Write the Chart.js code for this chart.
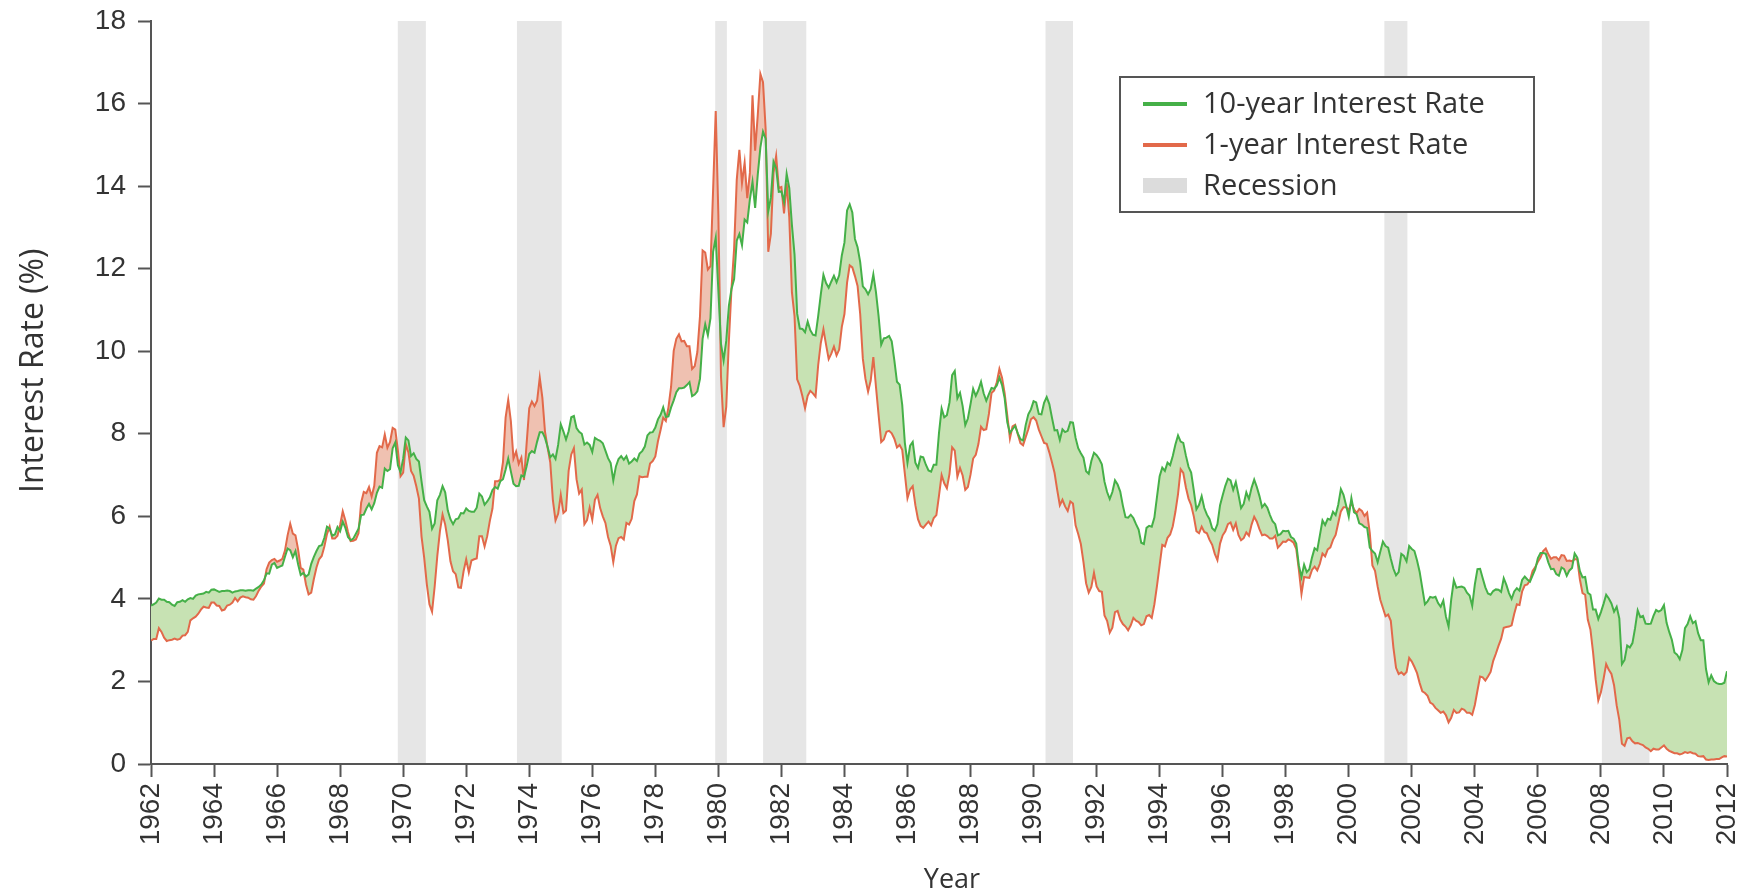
<!DOCTYPE html>
<html>
<head>
<meta charset="utf-8">
<script src="https://cdn.jsdelivr.net/npm/chart.js@4.4.1/dist/chart.umd.min.js"></script>
<style>
  html, body { margin: 0; padding: 0; background: #fff; }
</style>
</head>
<body>
<canvas id="chart" width="1744" height="896"></canvas>
<script>
// monthly readings, first value sits on the 1962 tick
const startYear = 1962;
const endYear = 2012;

const tenYear = [
  3.84, 3.87, 3.91, 4.01, 3.98, 3.98, 3.93, 3.92, 3.86, 3.83, 3.92, 3.93, // 1962
  3.97, 3.93, 3.99, 4.02, 4.00, 4.08, 4.11, 4.12, 4.13, 4.17, 4.15, 4.22, // 1963
  4.23, 4.20, 4.17, 4.19, 4.19, 4.20, 4.19, 4.15, 4.18, 4.19, 4.21, 4.21, // 1964
  4.20, 4.21, 4.21, 4.20, 4.25, 4.29, 4.35, 4.45, 4.62, 4.61, 4.83, 4.87, // 1965
  4.75, 4.78, 4.81, 5.02, 5.22, 5.18, 5.01, 5.16, 4.84, 4.58, 4.63, 4.54, // 1966
  4.59, 4.85, 5.02, 5.16, 5.28, 5.30, 5.48, 5.75, 5.70, 5.53, 5.56, 5.74, // 1967
  5.64, 5.87, 5.72, 5.50, 5.42, 5.46, 5.58, 5.70, 6.03, 6.04, 6.19, 6.30, // 1968
  6.17, 6.32, 6.57, 6.72, 6.69, 7.16, 7.10, 7.14, 7.65, 7.79, 7.24, 7.07, // 1969
  7.39, 7.91, 7.84, 7.46, 7.53, 7.39, 7.33, 6.84, 6.39, 6.24, 6.11, 5.70, // 1970
  5.83, 6.39, 6.52, 6.73, 6.58, 6.14, 5.93, 5.81, 5.93, 5.95, 6.08, 6.07, // 1971
  6.19, 6.13, 6.11, 6.11, 6.21, 6.55, 6.48, 6.28, 6.36, 6.46, 6.64, 6.71, // 1972
  6.67, 6.85, 6.90, 7.13, 7.40, 7.09, 6.79, 6.73, 6.74, 6.99, 6.96, 7.21, // 1973
  7.51, 7.58, 7.54, 7.81, 8.04, 8.04, 7.90, 7.68, 7.43, 7.50, 7.39, 7.73, // 1974
  8.23, 8.06, 7.86, 8.06, 8.40, 8.43, 8.14, 8.05, 8.00, 7.74, 7.79, 7.73, // 1975
  7.56, 7.90, 7.86, 7.83, 7.77, 7.59, 7.41, 7.29, 6.87, 7.21, 7.39, 7.46, // 1976
  7.37, 7.46, 7.28, 7.33, 7.40, 7.34, 7.52, 7.58, 7.69, 7.96, 8.03, 8.04, // 1977
  8.15, 8.35, 8.46, 8.64, 8.41, 8.42, 8.64, 8.81, 9.01, 9.10, 9.10, 9.12, // 1978
  9.18, 9.25, 8.91, 8.95, 9.03, 9.33, 10.30, 10.65, 10.39, 10.80, 12.41, 12.75, // 1979
  11.47, 10.18, 9.78, 10.25, 11.10, 11.51, 11.75, 12.68, 12.84, 12.57, 13.19, 13.12, // 1980
  13.68, 14.10, 13.47, 14.28, 14.94, 15.32, 15.15, 13.39, 13.72, 14.59, 14.43, 13.86, // 1981
  13.87, 13.62, 14.30, 13.95, 13.06, 12.34, 10.91, 10.55, 10.54, 10.46, 10.72, 10.51, // 1982
  10.40, 10.38, 10.85, 11.38, 11.85, 11.65, 11.54, 11.69, 11.83, 11.67, 11.84, 12.32, // 1983
  12.63, 13.41, 13.56, 13.36, 12.72, 12.52, 12.16, 11.57, 11.50, 11.38, 11.51, 11.86, // 1984
  11.43, 10.85, 10.16, 10.31, 10.33, 10.37, 10.24, 9.78, 9.26, 9.19, 8.70, 7.78, // 1985
  7.30, 7.71, 7.80, 7.30, 7.17, 7.45, 7.43, 7.25, 7.11, 7.08, 7.25, 7.25, // 1986
  8.02, 8.61, 8.40, 8.45, 8.76, 9.42, 9.52, 8.86, 8.99, 8.67, 8.21, 8.37, // 1987
  8.72, 9.09, 8.92, 9.06, 9.26, 8.98, 8.80, 8.96, 9.11, 9.09, 9.17, 9.36, // 1988
  9.18, 8.86, 8.28, 8.02, 8.11, 8.19, 8.01, 7.87, 7.84, 8.21, 8.47, 8.59, // 1989
  8.79, 8.76, 8.48, 8.47, 8.75, 8.89, 8.72, 8.39, 8.08, 8.09, 7.85, 8.11, // 1990
  8.04, 8.07, 8.28, 8.27, 7.90, 7.65, 7.53, 7.42, 7.09, 7.03, 7.34, 7.54, // 1991
  7.48, 7.39, 7.26, 6.84, 6.59, 6.42, 6.59, 6.87, 6.77, 6.60, 6.26, 5.98, // 1992
  5.97, 6.04, 5.96, 5.81, 5.68, 5.36, 5.33, 5.72, 5.77, 5.75, 5.97, 6.48, // 1993
  6.97, 7.18, 7.10, 7.30, 7.24, 7.46, 7.74, 7.96, 7.81, 7.78, 7.47, 7.20, // 1994
  7.06, 6.63, 6.17, 6.28, 6.49, 6.20, 6.04, 5.93, 5.71, 5.65, 5.81, 6.27, // 1995
  6.51, 6.74, 6.91, 6.87, 6.64, 6.83, 6.53, 6.20, 6.30, 6.58, 6.42, 6.69, // 1996
  6.89, 6.71, 6.49, 6.22, 6.30, 6.21, 6.03, 5.88, 5.81, 5.54, 5.57, 5.65, // 1997
  5.64, 5.65, 5.50, 5.46, 5.34, 4.81, 4.53, 4.83, 4.65, 4.72, 5.00, 5.23, // 1998
  5.18, 5.54, 5.90, 5.79, 5.94, 5.92, 6.11, 6.03, 6.28, 6.66, 6.52, 6.26, // 1999
  5.99, 6.44, 6.10, 6.05, 5.83, 5.80, 5.74, 5.72, 5.24, 5.16, 5.10, 4.89, // 2000
  5.14, 5.39, 5.28, 5.24, 4.97, 4.73, 4.57, 4.65, 5.09, 5.04, 4.91, 5.28, // 2001
  5.21, 5.16, 4.93, 4.65, 4.26, 3.87, 3.94, 4.05, 4.03, 4.05, 3.90, 3.81, // 2002
  3.96, 3.57, 3.33, 3.98, 4.45, 4.27, 4.29, 4.30, 4.27, 4.15, 4.08, 3.83, // 2003
  4.35, 4.72, 4.73, 4.50, 4.28, 4.13, 4.10, 4.19, 4.23, 4.22, 4.17, 4.50, // 2004
  4.34, 4.14, 4.00, 4.18, 4.26, 4.20, 4.46, 4.54, 4.47, 4.42, 4.57, 4.72, // 2005
  4.99, 5.11, 5.11, 5.09, 4.88, 4.72, 4.73, 4.60, 4.56, 4.76, 4.72, 4.56, // 2006
  4.69, 4.75, 5.10, 5.00, 4.67, 4.52, 4.53, 4.15, 4.10, 3.74, 3.74, 3.51, // 2007
  3.68, 3.88, 4.10, 4.01, 3.89, 3.69, 3.81, 3.53, 2.42, 2.52, 2.87, 2.82, // 2008
  2.93, 3.29, 3.72, 3.56, 3.59, 3.40, 3.39, 3.40, 3.59, 3.73, 3.69, 3.73, // 2009
  3.85, 3.42, 3.20, 3.01, 2.70, 2.65, 2.54, 2.76, 3.29, 3.39, 3.58, 3.41, // 2010
  3.46, 3.17, 3.00, 3.00, 2.30, 1.98, 2.15, 2.01, 1.96, 1.94, 1.94, 1.97, // 2011
  2.25, // 2012
];

const oneYear = [
  2.99, 3.03, 3.03, 3.29, 3.20, 3.06, 2.98, 3.00, 3.01, 3.04, 3.01, 3.03, // 1962
  3.11, 3.12, 3.20, 3.48, 3.53, 3.57, 3.64, 3.74, 3.81, 3.79, 3.78, 3.91, // 1963
  3.91, 3.84, 3.83, 3.72, 3.74, 3.84, 3.86, 3.91, 4.02, 3.94, 4.03, 4.06, // 1964
  4.04, 4.03, 3.99, 3.98, 4.07, 4.20, 4.30, 4.37, 4.72, 4.88, 4.94, 4.97, // 1965
  4.90, 4.93, 4.97, 5.17, 5.54, 5.82, 5.58, 5.54, 5.20, 4.75, 4.71, 4.35, // 1966
  4.11, 4.15, 4.48, 4.76, 4.96, 5.04, 5.27, 5.57, 5.75, 5.46, 5.46, 5.53, // 1967
  5.79, 6.12, 5.90, 5.62, 5.40, 5.41, 5.44, 5.59, 6.33, 6.59, 6.56, 6.71, // 1968
  6.48, 6.74, 7.54, 7.70, 7.67, 7.98, 7.66, 7.80, 8.14, 8.10, 7.59, 6.97, // 1969
  7.06, 7.75, 7.55, 7.10, 6.98, 6.73, 6.43, 5.51, 5.00, 4.36, 3.87, 3.69, // 1970
  4.30, 5.04, 5.64, 6.04, 5.80, 5.41, 4.91, 4.67, 4.60, 4.28, 4.27, 4.67, // 1971
  4.96, 4.64, 4.93, 4.96, 4.98, 5.52, 5.52, 5.27, 5.52, 5.89, 6.19, 6.85, // 1972
  6.85, 6.89, 7.31, 8.39, 8.82, 8.31, 7.40, 7.57, 7.27, 7.42, 6.88, 7.76, // 1973
  8.62, 8.78, 8.67, 8.80, 9.36, 8.87, 8.05, 7.66, 7.31, 6.39, 5.90, 6.06, // 1974
  6.52, 6.08, 6.14, 7.10, 7.50, 7.65, 6.90, 6.55, 6.65, 5.81, 5.91, 6.21, // 1975
  5.92, 6.40, 6.52, 6.20, 6.00, 5.84, 5.50, 5.29, 4.89, 5.29, 5.47, 5.50, // 1976
  5.44, 5.84, 5.80, 5.94, 6.37, 6.53, 6.97, 6.95, 6.96, 6.96, 7.28, 7.34, // 1977
  7.45, 7.82, 8.09, 8.39, 8.31, 8.64, 9.14, 10.01, 10.30, 10.41, 10.24, 10.25, // 1978
  10.12, 10.12, 9.57, 9.64, 9.98, 10.84, 12.44, 12.39, 11.98, 12.06, 13.92, 15.82, // 1979
  13.30, 9.39, 8.16, 8.65, 10.24, 11.52, 12.49, 14.15, 14.88, 14.08, 14.57, 13.71, // 1980
  14.32, 16.20, 14.86, 15.72, 16.72, 16.52, 15.38, 12.41, 12.85, 14.32, 14.73, 13.95, // 1981
  13.98, 13.34, 14.07, 13.24, 11.43, 10.85, 9.32, 9.16, 8.91, 8.62, 8.92, 9.04, // 1982
  8.98, 8.90, 9.66, 10.20, 10.53, 10.16, 9.81, 9.94, 10.11, 9.90, 10.04, 10.59, // 1983
  10.90, 11.66, 12.08, 12.03, 11.82, 11.58, 10.90, 9.82, 9.33, 9.02, 9.29, 9.86, // 1984
  9.14, 8.46, 7.80, 7.86, 8.05, 8.07, 8.01, 7.88, 7.67, 7.73, 7.61, 7.03, // 1985
  6.44, 6.65, 6.73, 6.27, 5.93, 5.77, 5.72, 5.80, 5.87, 5.78, 5.96, 6.03, // 1986
  6.50, 7.00, 6.80, 6.68, 7.03, 7.67, 7.59, 6.96, 7.17, 6.99, 6.64, 6.71, // 1987
  7.01, 7.40, 7.49, 7.75, 8.17, 8.09, 8.11, 8.48, 8.99, 9.05, 9.25, 9.57, // 1988
  9.36, 8.98, 8.44, 7.89, 8.18, 8.22, 7.99, 7.77, 7.72, 7.92, 8.11, 8.35, // 1989
  8.40, 8.32, 8.10, 7.94, 7.78, 7.76, 7.55, 7.31, 7.05, 6.64, 6.27, 6.40, // 1990
  6.24, 6.13, 6.36, 6.31, 5.78, 5.57, 5.33, 4.89, 4.38, 4.15, 4.29, 4.63, // 1991
  4.30, 4.19, 4.17, 3.60, 3.47, 3.18, 3.30, 3.68, 3.71, 3.50, 3.39, 3.33, // 1992
  3.24, 3.36, 3.54, 3.47, 3.44, 3.36, 3.39, 3.58, 3.61, 3.54, 3.87, 4.32, // 1993
  4.82, 5.31, 5.27, 5.48, 5.56, 5.76, 6.11, 6.54, 7.14, 7.05, 6.70, 6.43, // 1994
  6.27, 6.00, 5.64, 5.59, 5.75, 5.62, 5.59, 5.43, 5.31, 5.09, 4.94, 5.34, // 1995
  5.54, 5.64, 5.81, 5.85, 5.67, 5.83, 5.55, 5.42, 5.47, 5.61, 5.53, 5.80, // 1996
  5.99, 5.87, 5.69, 5.54, 5.56, 5.52, 5.46, 5.46, 5.53, 5.24, 5.31, 5.39, // 1997
  5.38, 5.44, 5.41, 5.36, 5.21, 4.71, 4.12, 4.53, 4.52, 4.51, 4.70, 4.78, // 1998
  4.69, 4.85, 5.10, 5.03, 5.20, 5.25, 5.43, 5.55, 5.84, 6.12, 6.22, 6.22, // 1999
  6.15, 6.33, 6.17, 6.08, 6.18, 6.13, 6.01, 6.09, 5.60, 4.81, 4.68, 4.30, // 2000
  3.98, 3.78, 3.58, 3.62, 3.47, 2.82, 2.33, 2.18, 2.22, 2.16, 2.23, 2.57, // 2001
  2.48, 2.35, 2.20, 1.96, 1.76, 1.72, 1.65, 1.49, 1.45, 1.36, 1.30, 1.24, // 2002
  1.27, 1.18, 1.01, 1.12, 1.31, 1.24, 1.25, 1.34, 1.31, 1.24, 1.24, 1.19, // 2003
  1.43, 1.78, 2.12, 2.10, 2.02, 2.12, 2.23, 2.50, 2.67, 2.86, 3.03, 3.30, // 2004
  3.32, 3.33, 3.36, 3.64, 3.87, 3.85, 4.18, 4.33, 4.35, 4.45, 4.68, 4.77, // 2005
  4.90, 5.00, 5.16, 5.22, 5.08, 4.97, 5.01, 5.01, 4.94, 5.06, 5.05, 4.92, // 2006
  4.93, 4.91, 4.96, 4.96, 4.47, 4.14, 4.10, 3.50, 3.26, 2.71, 2.05, 1.54, // 2007
  1.74, 2.06, 2.42, 2.28, 2.18, 1.91, 1.42, 1.07, 0.49, 0.44, 0.62, 0.64, // 2008
  0.55, 0.50, 0.51, 0.48, 0.46, 0.40, 0.37, 0.31, 0.37, 0.35, 0.35, 0.40, // 2009
  0.45, 0.37, 0.32, 0.29, 0.26, 0.26, 0.23, 0.25, 0.29, 0.27, 0.29, 0.26, // 2010
  0.25, 0.19, 0.18, 0.19, 0.11, 0.10, 0.11, 0.11, 0.12, 0.12, 0.16, 0.19, // 2011
  0.18, // 2012
];

const recessionStart = [1969.83, 1973.61, 1979.90, 1981.42, 1990.38, 2001.13, 2008.03];
const recessionEnd = [1970.72, 1975.03, 1980.27, 1982.79, 1991.25, 2001.86, 2009.54];

const seriesNames = ["10-year Interest Rate", "1-year Interest Rate", "Recession"];
const xTitle = "Year";
const yTitle = "Interest Rate (%)";

const GREEN = "#45b048";
const RED = "#e2694a";
const GREEN_FILL = "#c7e2b3";
const RED_FILL = "#efc1b1";
const BAND = "#e6e6e6";
const AXIS = "#555555";
const TEXT = "#333333";
const TICK_FONT = { family: "'Liberation Sans', Arial, sans-serif", size: 28 };
const TITLE_FONT = "'Open Sans', 'Noto Sans', sans-serif";

const months = tenYear.map((_, i) => startYear + i / 12);

const recessionBands = {
  id: "recessionBands",
  beforeDraw(chart) {
    const { ctx, chartArea, scales } = chart;
    ctx.save();
    ctx.fillStyle = BAND;
    recessionStart.forEach((start, i) => {
      const x0 = scales.x.getPixelForValue(start);
      const x1 = scales.x.getPixelForValue(recessionEnd[i]);
      ctx.fillRect(x0, chartArea.top, x1 - x0, chartArea.bottom - chartArea.top);
    });
    ctx.restore();
  },
};

// axis titles sit a little off-centre in the original, so they are drawn by hand
const axisTitles = {
  id: "axisTitles",
  afterDraw(chart) {
    const ctx = chart.ctx;
    ctx.save();
    ctx.fillStyle = TEXT;
    ctx.textBaseline = "alphabetic";

    ctx.font = `27px ${TITLE_FONT}`;
    ctx.textAlign = "center";
    ctx.fillText(xTitle, 952, 888);

    ctx.translate(43, 493);
    ctx.rotate(-Math.PI / 2);
    ctx.font = `32px ${TITLE_FONT}`;
    ctx.textAlign = "left";
    ctx.fillText(yTitle, 0, 0);
    ctx.restore();
  },
};

const boxLegend = {
  id: "boxLegend",
  afterDraw(chart) {
    const ctx = chart.ctx;
    const left = 1120, top = 77, w = 414, h = 135;
    ctx.save();
    ctx.fillStyle = "#fff";
    ctx.fillRect(left, top, w, h);
    ctx.strokeStyle = AXIS;
    ctx.lineWidth = 2;
    ctx.strokeRect(left, top, w, h);

    const rows = [104, 145, 186];
    const swatches = [GREEN, RED, "#dcdcdc"];
    ctx.font = `29px ${TITLE_FONT}`;
    ctx.textBaseline = "middle";
    rows.forEach((y, i) => {
      if (i < 2) {
        ctx.strokeStyle = swatches[i];
        ctx.lineWidth = 4;
        ctx.beginPath();
        ctx.moveTo(1143, y);
        ctx.lineTo(1187, y);
        ctx.stroke();
      } else {
        ctx.fillStyle = swatches[i];
        ctx.fillRect(1143, y - 8, 44, 15);
      }
      ctx.fillStyle = TEXT;
      ctx.fillText(seriesNames[i], 1203, y + 1);
    });
    ctx.restore();
  },
};

new Chart(document.getElementById("chart"), {
  type: "line",
  data: {
    labels: months,
    datasets: [
      {
        label: seriesNames[0],
        data: tenYear,
        borderColor: GREEN,
        borderWidth: 2,
        pointRadius: 0,
        tension: 0,
        fill: { target: 1, above: GREEN_FILL, below: RED_FILL },
      },
      {
        label: seriesNames[1],
        data: oneYear,
        borderColor: RED,
        borderWidth: 2,
        pointRadius: 0,
        tension: 0,
        fill: false,
      },
    ],
  },
  options: {
    responsive: false,
    animation: false,
    events: [],
    layout: { padding: { top: 21, right: 17, bottom: 0, left: 0 } },
    scales: {
      x: {
        type: "linear",
        min: startYear,
        max: endYear,
        ticks: {
          stepSize: 2,
          autoSkip: false,
          minRotation: 90,
          maxRotation: 90,
          padding: 6,
          color: TEXT,
          font: TICK_FONT,
          callback: (v) => String(v),
        },
        grid: { drawOnChartArea: false, drawTicks: true, tickLength: 13, tickColor: AXIS, tickWidth: 2 },
        border: { color: AXIS, width: 2 },
        afterFit(scale) {
          scale.height = 132;
          scale.paddingLeft = 0;
          scale.paddingRight = 0;
        },
      },
      y: {
        min: 0,
        max: 18,
        ticks: { stepSize: 2, padding: 12, color: TEXT, font: TICK_FONT },
        grid: { drawOnChartArea: false, drawTicks: true, tickLength: 13, tickColor: AXIS, tickWidth: 2 },
        border: { color: AXIS, width: 2 },
        afterFit(scale) {
          scale.width = 151;
          scale.paddingTop = 0;
          scale.paddingBottom = 0;
        },
      },
    },
    plugins: {
      legend: { display: false },
      tooltip: { enabled: false },
      filler: { propagate: false, drawTime: "beforeDatasetsDraw" },
    },
  },
  plugins: [recessionBands, axisTitles, boxLegend],
});
</script>
</body>
</html>
